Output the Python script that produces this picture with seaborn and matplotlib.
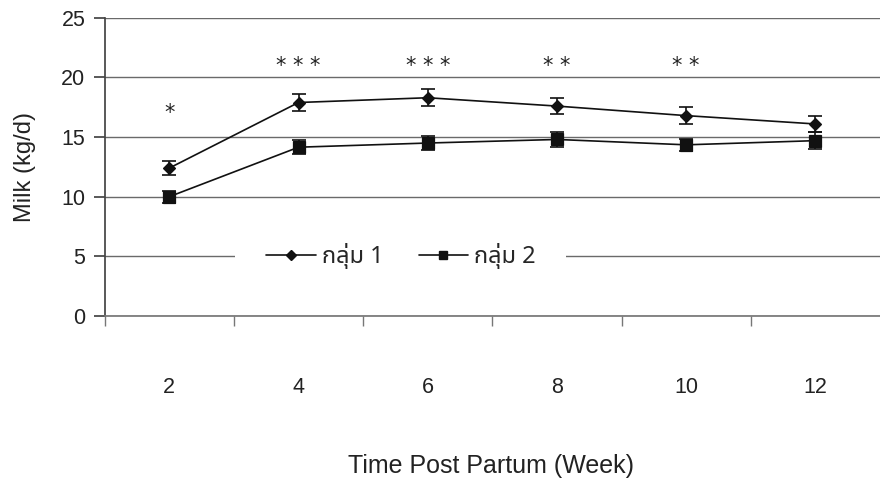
import matplotlib
matplotlib.use("Agg")
import matplotlib.pyplot as plt
import seaborn as sns
import pandas as pd
import numpy as np
from matplotlib import font_manager
from matplotlib.ft2font import FT2Font
from matplotlib.lines import Line2D

# ---------------- data ----------------
weeks = ["2", "4", "6", "8", "10", "12"]
group1 = [12.4, 17.9, 18.3, 17.6, 16.8, 16.1]
group1_se = [0.6, 0.7, 0.7, 0.7, 0.7, 0.7]
group2 = [10.0, 14.15, 14.5, 14.8, 14.35, 14.7]
group2_se = [0.5, 0.6, 0.6, 0.6, 0.5, 0.7]
significance = ["*", "***", "***", "**", "**", ""]
series_names = ["กลุ่ม 1", "กลุ่ม 2"]
y_ticks = [0, 5, 10, 15, 20, 25]

# ---------------- fonts ----------------
thai_font = None
candidates = []
for f in font_manager.fontManager.ttflist:
    try:
        cmap = FT2Font(f.fname).get_charmap()
        if 0x0E01 in cmap and 0x0E38 in cmap and 0x0E48 in cmap:
            candidates.append(f.name)
    except Exception:
        pass
for pref in ["Noto Sans Thai", "Loma", "Garuda", "Noto Sans", "DejaVu Sans"]:
    if pref in candidates:
        thai_font = pref
        break
if thai_font is None and candidates:
    thai_font = candidates[0]

sns.set_theme(style="white")
plt.rcParams["font.family"] = ["Liberation Sans", "DejaVu Sans"]
legend_family = ([thai_font] if thai_font else []) + ["Liberation Sans", "DejaVu Sans"]

df = pd.DataFrame({
    "week": weeks * 2,
    "milk": group1 + group2,
    "se": group1_se + group2_se,
    "group": [series_names[0]] * len(weeks) + [series_names[1]] * len(weeks),
})

fig = plt.figure(figsize=(8.8, 4.83), dpi=100)
ax = fig.add_axes([0.119, 0.346, 0.881, 0.617])

sns.pointplot(data=df, x="week", y="milk", hue="group", order=weeks,
              hue_order=series_names, markers=["D", "s"], linestyles=["-", "-"],
              palette=["#111111", "#111111"], errorbar=None, markersize=6,
              linewidth=1.2, ax=ax, legend=False)

# error bars on the categorical positions
for i, name in enumerate(series_names):
    sub = df[df["group"] == name]
    xs = [weeks.index(w) for w in sub["week"]]
    ax.errorbar(xs, sub["milk"], yerr=sub["se"], fmt="none", ecolor="#111111",
                elinewidth=1.2, capsize=5, capthick=1.2, zorder=4)

for line in ax.lines:
    if line.get_marker() == "s":
        line.set_markersize(8)
    elif line.get_marker() == "D":
        line.set_markersize(6)

# significance stars
for i, s in enumerate(significance):
    if not s:
        continue
    y = 16.2 if i == 0 else 20.1
    ax.text(i, y, " ".join(s), ha="center", va="bottom", fontsize=15,
            color="#222222", family=["DejaVu Sans"])

# axes styling
ax.set_ylim(0, 25)
ax.set_xlim(-0.5, len(weeks) - 0.5)
ax.set_yticks(y_ticks)
ax.yaxis.grid(True, color="#6a6a6a", linewidth=1.0)
ax.set_axisbelow(True)
for side in ["top", "right"]:
    ax.spines[side].set_visible(False)
ax.spines["left"].set_color("#444444")
ax.spines["bottom"].set_color("#777777")
ax.tick_params(axis="y", which="major", length=8, color="#444444", labelsize=15.5,
               labelcolor="#222222", pad=6, left=True)
ax.set_xticks(range(len(weeks)))
ax.set_xticklabels(weeks)
ax.tick_params(axis="x", which="major", length=0, pad=44, labelsize=15.5,
               labelcolor="#222222")
ax.set_xticks(np.arange(-0.5, len(weeks) - 0.5, 1.0), minor=True)
ax.tick_params(axis="x", which="minor", length=7, color="#777777", bottom=True)

ax.set_ylabel("Milk (kg/d)", fontsize=17, color="#222222")
ax.yaxis.set_label_coords(-0.088, 0.5)
ax.set_xlabel("Time Post Partum (Week)", fontsize=18, color="#222222")
ax.xaxis.set_label_coords(0.498, -0.465)

handles = [
    Line2D([0], [0], color="#111111", marker="D", markersize=5, linewidth=1.2),
    Line2D([0], [0], color="#111111", marker="s", markersize=6, linewidth=1.2),
]
leg = ax.legend(handles, series_names, loc="center", bbox_to_anchor=(0.382, 0.2),
                ncol=2, frameon=True, framealpha=1.0, facecolor="white",
                edgecolor="white", handlelength=2.1, handletextpad=0.25,
                columnspacing=1.5, prop={"family": legend_family, "size": 17},
                borderpad=1.3, borderaxespad=0)
leg.get_frame().set_linewidth(0)

fig.savefig("out.png", dpi=100, facecolor="white")
